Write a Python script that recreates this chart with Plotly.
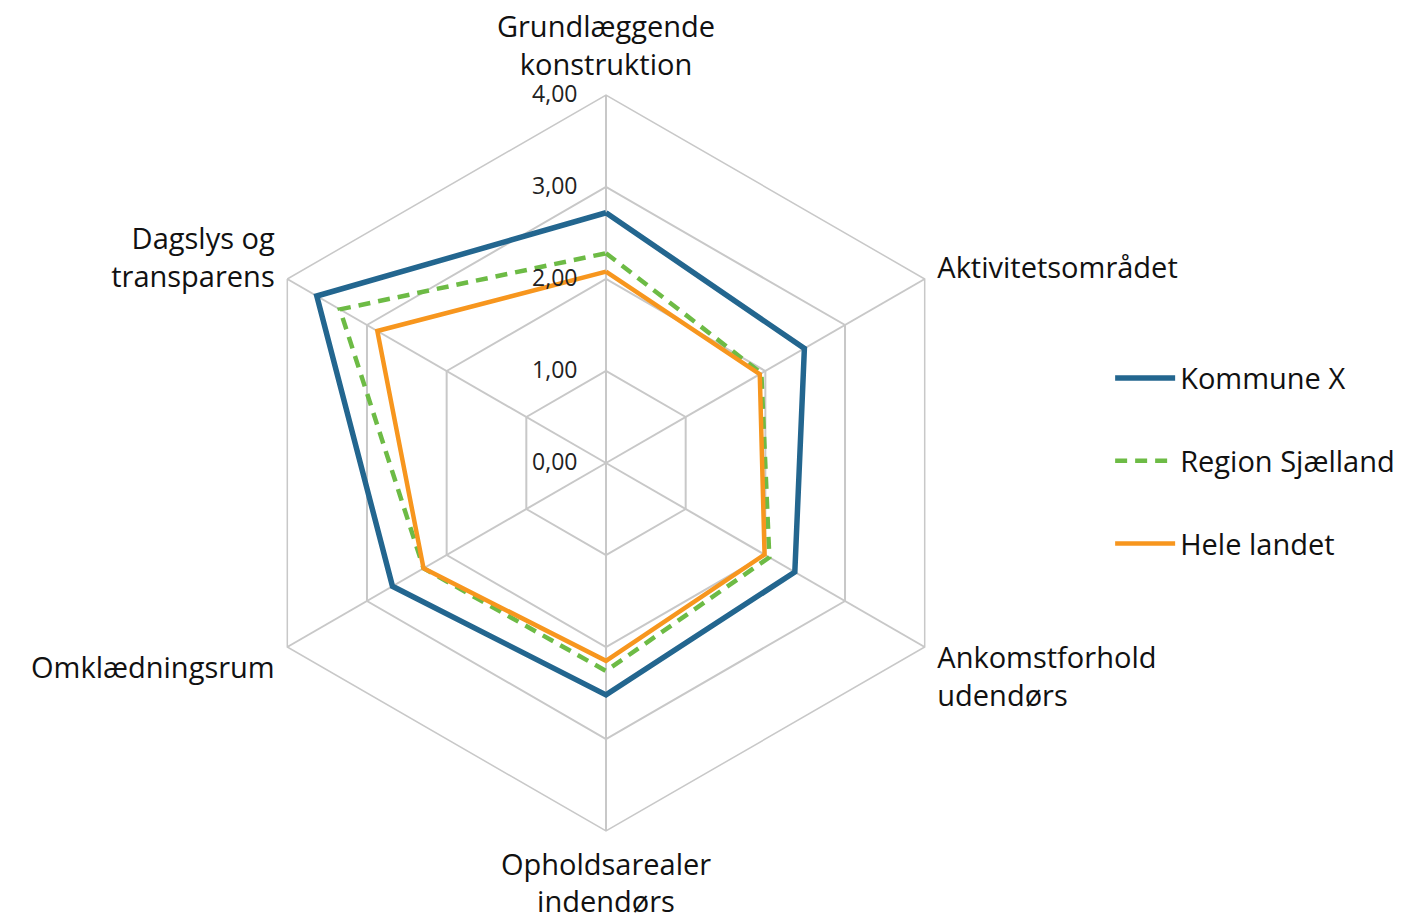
import plotly.graph_objects as go

categories = ["Grundlæggende<br>konstruktion", "Aktivitetsområdet", "Ankomstforhold<br>udendørs",
              "Opholdsarealer<br>indendørs", "Omklædningsrum", "Dagslys og<br>transparens"]
kommune_x = [2.72, 2.49, 2.37, 2.52, 2.68, 3.63]
region_sjaelland = [2.28, 1.95, 2.05, 2.26, 2.29, 3.34]
hele_landet = [2.08, 1.93, 1.99, 2.15, 2.29, 2.87]
radial_ticks = [0, 1, 2, 3, 4]

series = [
    ("Kommune X", kommune_x, dict(color="#23668F", width=5.5)),
    ("Region Sjælland", region_sjaelland, dict(color="#6DBB45", width=4.5, dash="12px,8px")),
    ("Hele landet", hele_landet, dict(color="#F7961E", width=4.5)),
]

fig = go.Figure()
for i, (name, vals, line) in enumerate(series):
    fig.add_trace(go.Scatterpolar(
        r=vals + vals[:1], theta=categories + categories[:1],
        mode="lines", name=name, line=line, legendgroup=str(i)))

R = 368
cx, cy = 598, 924 - 455
fig.update_layout(
    width=1404, height=924,
    margin=dict(l=0, r=0, t=0, b=0),
    paper_bgcolor="white", plot_bgcolor="white",
    separators=",.",
    font=dict(family="Open Sans", color="#222222"),
    polar=dict(
        domain=dict(x=[(cx - R) / 1404, (cx + R) / 1404], y=[(cy - R) / 924, (cy + R) / 924]),
        bgcolor="white",
        gridshape="linear",
        angularaxis=dict(direction="clockwise", rotation=90, showline=True, linecolor="#c8c8c8",
                         linewidth=1.5, gridcolor="#c8c8c8", gridwidth=1.5,
                         tickfont=dict(size=29, color="#111111"),
                         ticks="outside", ticklen=8, tickcolor="rgba(0,0,0,0)"),
        radialaxis=dict(range=[0, 4], tickvals=radial_ticks, tickformat=".2f", angle=90,
                        tickangle=90,
                        side="counterclockwise", showline=False, gridcolor="#c8c8c8", gridwidth=1.5,
                        tickfont=dict(size=23, color="#222222"),
                        ticks="outside", ticklen=20, tickcolor="rgba(0,0,0,0)"),
    ),
    legend=dict(x=0.785, y=0.627, xanchor="left", yanchor="top", font=dict(size=29, color="#111111"),
                tracegroupgap=42, itemwidth=60, bgcolor="rgba(0,0,0,0)"),
)
fig.write_html("out.html")
